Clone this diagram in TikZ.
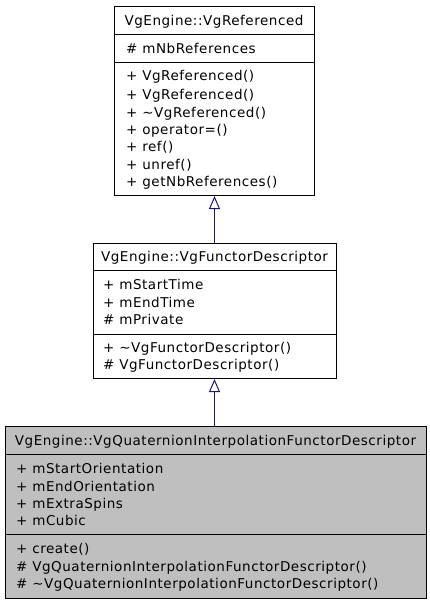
\documentclass[tikz,border=0pt]{standalone}
\usepackage{fontspec}
\setmainfont{DejaVu Sans}[LetterSpace=4]
\usetikzlibrary{arrows.meta}
\definecolor{edgeblue}{HTML}{191970}
\definecolor{clsgray}{HTML}{BFBFBF}
\tikzset{
  sect/.style={draw=black, line width=1pt, anchor=north west, inner sep=0pt},
  hdr/.style={anchor=base, inner sep=0pt, font=\fontsize{13.5}{15}\selectfont},
  mem/.style={anchor=base west, inner sep=0pt, font=\fontsize{13.5}{15}\selectfont},
  inherit/.style={draw=edgeblue, line width=1pt, -{Triangle[open, length=13pt, width=11pt, fill=white]}}
}
\begin{document}
\begin{tikzpicture}[x=1pt,y=-1pt]
\useasboundingbox (0,0) rectangle (429,603);
% Box 1
\node[sect, fill=white, minimum width=200pt, minimum height=28pt] (b1h) at (114,6) {};
\node[sect, fill=white, minimum width=200pt, minimum height=28pt] (b1a) at (114,34) {};
\node[sect, fill=white, minimum width=200pt, minimum height=133pt] (b1m) at (114,62) {};
\node[hdr] (b1t) at (214,25) {VgEngine::VgReferenced};
\node[mem] (b1a1) at (126,53) {\# mNbReferences};
\node[mem] (b1m1) at (126,80) {+ VgReferenced()};
\node[mem] (b1m2) at (126,99) {+ VgReferenced()};
\node[mem] (b1m3) at (126,117) {+ \char"007E VgReferenced()};
\node[mem] (b1m4) at (126,134) {+ operator=()};
\node[mem] (b1m5) at (126,151.5) {+ ref()};
\node[mem] (b1m6) at (126,169) {+ unref()};
\node[mem] (b1m7) at (126,186.5) {+ getNbReferences()};
% Box 2
\node[sect, fill=white, minimum width=243pt, minimum height=27pt] (b2h) at (93,243) {};
\node[sect, fill=white, minimum width=243pt, minimum height=64pt] (b2a) at (93,270) {};
\node[sect, fill=white, minimum width=243pt, minimum height=44pt] (b2m) at (93,334) {};
\node[hdr] (b2t) at (214.5,261.5) {VgEngine::VgFunctorDescriptor};
\node[mem] (b2a1) at (103,289) {+ mStartTime};
\node[mem] (b2a2) at (103,307) {+ mEndTime};
\node[mem] (b2a3) at (103,324) {\# mPrivate};
\node[mem] (b2m1) at (103,352) {+ \char"007E VgFunctorDescriptor()};
\node[mem] (b2m2) at (103,369) {\# VgFunctorDescriptor()};
% Box 3
\node[sect, fill=clsgray, minimum width=421pt, minimum height=28pt] (b3h) at (5,426) {};
\node[sect, fill=clsgray, minimum width=421pt, minimum height=80pt] (b3a) at (5,454) {};
\node[sect, fill=clsgray, minimum width=421pt, minimum height=64pt] (b3m) at (5,534) {};
\node[hdr] (b3t) at (215.5,445) {VgEngine::VgQuaternionInterpolationFunctorDescriptor};
\node[mem] (b3a1) at (16,473) {+ mStartOrientation};
\node[mem] (b3a2) at (16,491) {+ mEndOrientation};
\node[mem] (b3a3) at (16,508) {+ mExtraSpins};
\node[mem] (b3a4) at (16,525) {+ mCubic};
\node[mem] (b3m1) at (16,553) {+ create()};
\node[mem] (b3m2) at (16,571) {\# VgQuaternionInterpolationFunctorDescriptor()};
\node[mem] (b3m3) at (16,588) {\# \char"007E VgQuaternionInterpolationFunctorDescriptor()};
% Inheritance
\draw[inherit] (b2h.north -| b1m.south) -- (b1m.south);
\draw[inherit] (b3h.north -| b1m.south) -- (b2m.south -| b1m.south);
\end{tikzpicture}
\end{document}
